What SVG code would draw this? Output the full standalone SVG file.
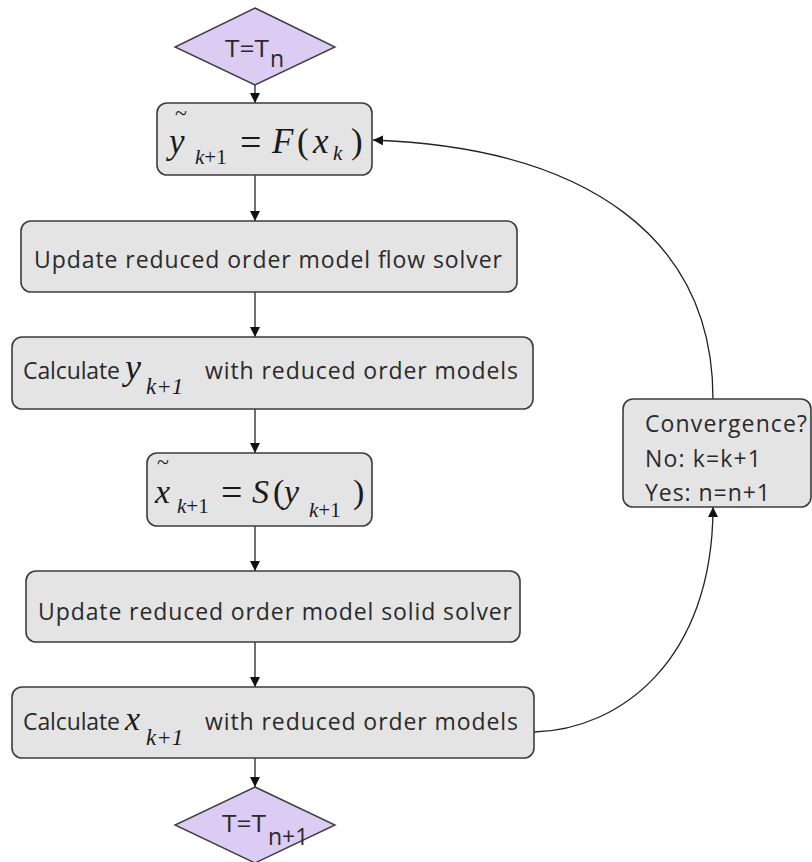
<svg xmlns="http://www.w3.org/2000/svg" width="812" height="862" viewBox="0 0 812 862">
  <style>
    .box { fill: #e4e4e4; stroke: #3c3c3c; stroke-width: 1.6; }
    .dia { fill: #dccbf3; stroke: #3c3c3c; stroke-width: 1.4; }
    .lbl { font-family: "Open Sans", "Liberation Sans", sans-serif; font-size: 23px; fill: #2a2a2a; }
    .math { font-family: "Liberation Serif", "Times New Roman", serif; fill: #1a1a1a; }
    .it { font-style: italic; }
    .edge { fill: none; stroke: #222; stroke-width: 1.3; }
  </style>
  <defs>
    <marker id="arrow" viewBox="0 0 10 10" refX="10" refY="5" markerWidth="10" markerHeight="10" markerUnits="userSpaceOnUse" orient="auto">
      <path d="M0,0 L10,5 L0,10 z" fill="#111"/>
    </marker>
  </defs>
  <rect width="812" height="862" fill="#ffffff"/>

  <!-- connectors -->
  <g id="connectors">
    <line class="edge" x1="255" y1="85" x2="255" y2="103" marker-end="url(#arrow)"/>
    <line class="edge" x1="255" y1="175" x2="255" y2="221" marker-end="url(#arrow)"/>
    <line class="edge" x1="255" y1="292" x2="255" y2="337" marker-end="url(#arrow)"/>
    <line class="edge" x1="255" y1="409" x2="255" y2="453" marker-end="url(#arrow)"/>
    <line class="edge" x1="255" y1="526" x2="255" y2="571" marker-end="url(#arrow)"/>
    <line class="edge" x1="255" y1="642" x2="255" y2="687" marker-end="url(#arrow)"/>
    <line class="edge" x1="255" y1="758" x2="255" y2="787" marker-end="url(#arrow)"/>
    <path class="edge" d="M534,732 C620,730 713,660 713,507" marker-end="url(#arrow)"/>
    <path class="edge" d="M713,399 C713,240 590,148 373,140" marker-end="url(#arrow)"/>
  </g>

  <!-- start time level -->
  <g id="start">
    <polygon class="dia" points="255,8 335,47 255,85 175,47"/>
    <text class="lbl" font-size="26" x="225" y="57" textLength="44" lengthAdjust="spacingAndGlyphs">T=T</text>
    <text class="lbl" font-size="16" x="270" y="67">n</text>
  </g>

  <!-- flow prediction -->
  <g id="predict-flow">
    <rect class="box" x="157" y="103" width="215" height="72" rx="10"/>
    <text class="math" font-size="22" x="175" y="120">~</text>
    <text class="math" font-size="35"><tspan class="it" x="169" y="153">y</tspan><tspan class="it" font-size="21" x="195" y="164">k</tspan><tspan font-size="21" y="164">+1</tspan><tspan font-size="38" x="240" y="155">=</tspan><tspan class="it" x="272" y="153">F</tspan><tspan x="297" y="153">(</tspan><tspan class="it" x="313" y="153">x</tspan><tspan class="it" font-size="21" x="333" y="160">k</tspan><tspan x="351" y="153">)</tspan></text>
  </g>

  <!-- update flow model -->
  <g id="update-flow">
    <rect class="box" x="21" y="221" width="496" height="71" rx="10"/>
    <text class="lbl" x="34" y="268" textLength="468" lengthAdjust="spacing">Update reduced order model flow solver</text>
  </g>

  <!-- calculate y -->
  <g id="calc-y">
    <rect class="box" x="12" y="337" width="521" height="72" rx="10"/>
    <text class="lbl" x="23" y="379" textLength="97" lengthAdjust="spacing">Calculate</text>
    <text class="math it" font-size="36" x="125" y="379">y</text>
    <text class="math it" font-size="23" x="146" y="394">k+1</text>
    <text class="lbl" x="205" y="379" textLength="313" lengthAdjust="spacing">with reduced order models</text>
  </g>

  <!-- solid prediction -->
  <g id="predict-solid">
    <rect class="box" x="147" y="453" width="225" height="73" rx="10"/>
    <text class="math" font-size="22" x="157" y="469">~</text>
    <text class="math" font-size="34"><tspan class="it" x="155" y="503">x</tspan><tspan class="it" font-size="21" x="177" y="513">k</tspan><tspan font-size="21" y="513">+1</tspan><tspan font-size="38" x="221" y="505">=</tspan><tspan class="it" x="252" y="503">S</tspan><tspan x="273" y="503">(</tspan><tspan class="it" x="284" y="503">y</tspan><tspan class="it" font-size="21" x="309" y="517">k</tspan><tspan font-size="21" y="517">+1</tspan><tspan x="353" y="503">)</tspan></text>
  </g>

  <!-- update solid model -->
  <g id="update-solid">
    <rect class="box" x="26" y="571" width="494" height="71" rx="10"/>
    <text class="lbl" x="38" y="620" textLength="474" lengthAdjust="spacing">Update reduced order model solid solver</text>
  </g>

  <!-- calculate x -->
  <g id="calc-x">
    <rect class="box" x="12" y="687" width="522" height="71" rx="10"/>
    <text class="lbl" x="23" y="730" textLength="97" lengthAdjust="spacing">Calculate</text>
    <text class="math it" font-size="34" x="125" y="730">x</text>
    <text class="math it" font-size="23" x="146" y="745">k+1</text>
    <text class="lbl" x="205" y="730" textLength="313" lengthAdjust="spacing">with reduced order models</text>
  </g>

  <!-- convergence check -->
  <g id="convergence">
    <rect class="box" x="623" y="399" width="188" height="108" rx="10"/>
    <text class="lbl" font-size="24" x="645" y="432" textLength="162" lengthAdjust="spacing">Convergence?</text>
    <text class="lbl" font-size="24" x="645" y="467" textLength="116" lengthAdjust="spacing">No: k=k+1</text>
    <text class="lbl" font-size="24" x="645" y="501" textLength="125" lengthAdjust="spacing">Yes: n=n+1</text>
  </g>

  <!-- next time level -->
  <g id="end">
    <polygon class="dia" points="255,787 335,825 255,863 175,825"/>
    <text class="lbl" font-size="26" x="222" y="832" textLength="44" lengthAdjust="spacingAndGlyphs">T=T</text>
    <text class="lbl" font-size="16" x="268" y="845">n+1</text>
  </g>
</svg>
